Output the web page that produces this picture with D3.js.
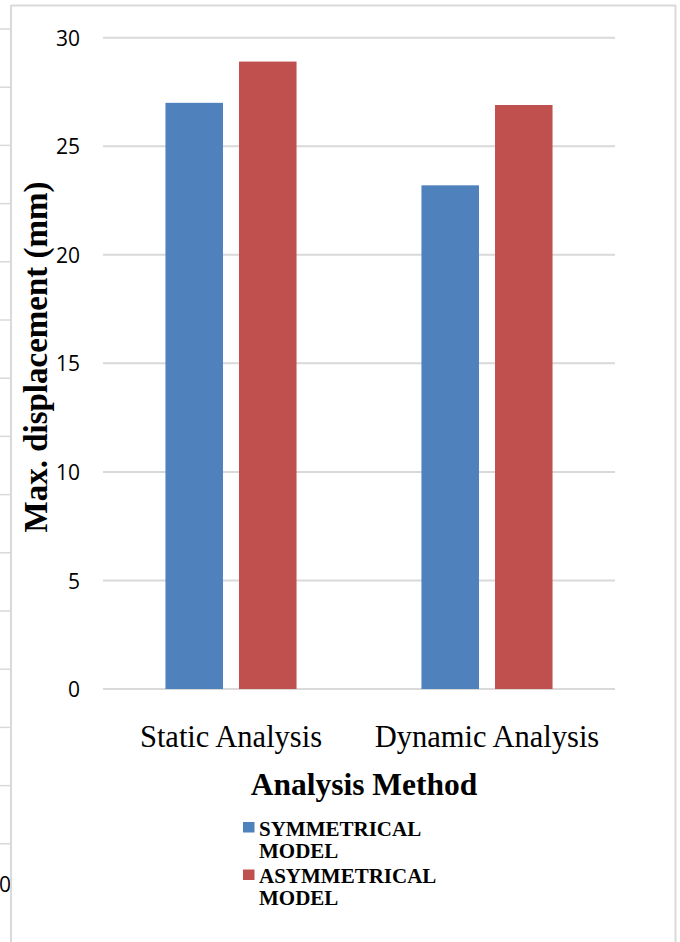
<!DOCTYPE html>
<html>
<head>
<meta charset="utf-8">
<script src="https://cdn.jsdelivr.net/npm/d3@7"></script>
<style>
  html, body { margin: 0; padding: 0; background: #fff; }
  svg { display: block; }
</style>
</head>
<body>
<svg id="chart" width="680" height="942"></svg>
<script>
// Chart data
const categories = ["Static Analysis", "Dynamic Analysis"];
const seriesNames = ["SYMMETRICAL MODEL", "ASYMMETRICAL MODEL"];
const symmetrical = [27.0, 23.2];
const asymmetrical = [28.9, 26.9];
const yTicks = [0, 5, 10, 15, 20, 25, 30];
const colors = ["#4f81bd", "#c0504d"];

const rows = categories.map((c, i) => ({
  category: c,
  values: [
    { key: seriesNames[0], value: symmetrical[i] },
    { key: seriesNames[1], value: asymmetrical[i] }
  ]
}));

const svg = d3.select("#chart");
const W = 680, H = 942;
const frame = "#d9d9d9";

// Outer frame of the chart area
svg.append("line").attr("x1", 11).attr("x2", 676).attr("y1", 5.5).attr("y2", 5.5)
  .attr("stroke", frame).attr("stroke-width", 2);
svg.append("line").attr("x1", 675.5).attr("x2", 675.5).attr("y1", 5).attr("y2", H)
  .attr("stroke", frame).attr("stroke-width", 2);
svg.append("line").attr("x1", 11).attr("x2", 11).attr("y1", 5).attr("y2", H)
  .attr("stroke", frame).attr("stroke-width", 2);

// Edge of the neighbouring grid on the far left
const edge = svg.append("g");
edge.selectAll("line").data(d3.range(15)).join("line")
  .attr("x1", 0).attr("x2", 11)
  .attr("y1", i => 29 + i * 58.2).attr("y2", i => 29 + i * 58.2)
  .attr("stroke", frame).attr("stroke-width", 1.5);
svg.append("clipPath").attr("id", "edgeClip")
  .append("rect").attr("x", 0).attr("y", 0).attr("width", 10).attr("height", H);
svg.append("text").attr("clip-path", "url(#edgeClip)")
  .attr("x", -1).attr("y", 892)
  .attr("font-family", "'Open Sans', sans-serif").attr("font-size", 21)
  .attr("fill", "#000").text("0");

// Plot area
const plot = { left: 103, right: 615, top: 37.7, bottom: 689 };

const x0 = d3.scaleBand()
  .domain(categories)
  .range([plot.left, plot.right])
  .paddingInner(0.488)
  .paddingOuter(0.244);

const x1 = d3.scaleBand()
  .domain(seriesNames)
  .range([0, x0.bandwidth()])
  .paddingInner(0.218);

const y = d3.scaleLinear().domain([0, 30]).range([plot.bottom, plot.top]);

// Gridlines
svg.append("g").selectAll("line").data(yTicks).join("line")
  .attr("x1", plot.left).attr("x2", plot.right)
  .attr("y1", d => y(d)).attr("y2", d => y(d))
  .attr("stroke", frame).attr("stroke-width", 2);

// Y axis labels
const yAxis = d3.axisLeft(y).tickValues(yTicks).tickSize(0).tickPadding(0);
const gy = svg.append("g").attr("transform", "translate(80,0)").call(yAxis);
gy.select(".domain").remove();
gy.selectAll("text")
  .attr("font-family", "'Open Sans', sans-serif")
  .attr("font-size", 21)
  .attr("fill", "#000")
  .attr("dy", "0.36em");

// Bars
svg.append("g").selectAll("g").data(rows).join("g")
  .attr("transform", d => `translate(${x0(d.category)},0)`)
  .selectAll("rect").data(d => d.values).join("rect")
  .attr("x", d => x1(d.key))
  .attr("width", x1.bandwidth())
  .attr("y", d => y(d.value))
  .attr("height", d => y(0) - y(d.value))
  .attr("fill", (d, i) => colors[i]);

// Category labels
const xAxis = d3.axisBottom(x0).tickSize(0).tickPadding(0);
const gx = svg.append("g").attr("transform", "translate(0,747)").call(xAxis);
gx.select(".domain").remove();
gx.selectAll("text")
  .attr("font-family", "'Liberation Serif', 'Times New Roman', serif")
  .attr("font-size", 30.5)
  .attr("fill", "#000")
  .attr("dy", 0);

// Axis titles
svg.append("text")
  .attr("x", 364).attr("y", 795)
  .attr("text-anchor", "middle")
  .attr("font-family", "'Liberation Serif', 'Times New Roman', serif")
  .attr("font-weight", "bold").attr("font-size", 31.5)
  .attr("fill", "#000")
  .text("Analysis Method");

svg.append("text")
  .attr("transform", "translate(46.5,357) rotate(-90)")
  .attr("text-anchor", "middle")
  .attr("font-family", "'Liberation Serif', 'Times New Roman', serif")
  .attr("font-weight", "bold").attr("font-size", 33)
  .attr("fill", "#000")
  .text("Max. displacement (mm)");

// Legend
const legend = svg.append("g").attr("transform", "translate(243,822)");
const item = legend.selectAll("g").data(seriesNames).join("g")
  .attr("transform", (d, i) => `translate(0,${i * 47.5})`);
item.append("rect")
  .attr("width", 11.5).attr("height", 10.5)
  .attr("fill", (d, i) => colors[i]);
item.append("text")
  .attr("x", 16).attr("y", 13.5)
  .attr("font-family", "'Liberation Serif', 'Times New Roman', serif")
  .attr("font-weight", "bold").attr("font-size", 21)
  .attr("fill", "#000")
  .each(function (d) {
    const words = d.split(" ");
    const t = d3.select(this);
    words.forEach((w, k) => {
      t.append("tspan").attr("x", 16).attr("dy", k === 0 ? 0 : 22).text(w);
    });
  });
</script>
</body>
</html>
